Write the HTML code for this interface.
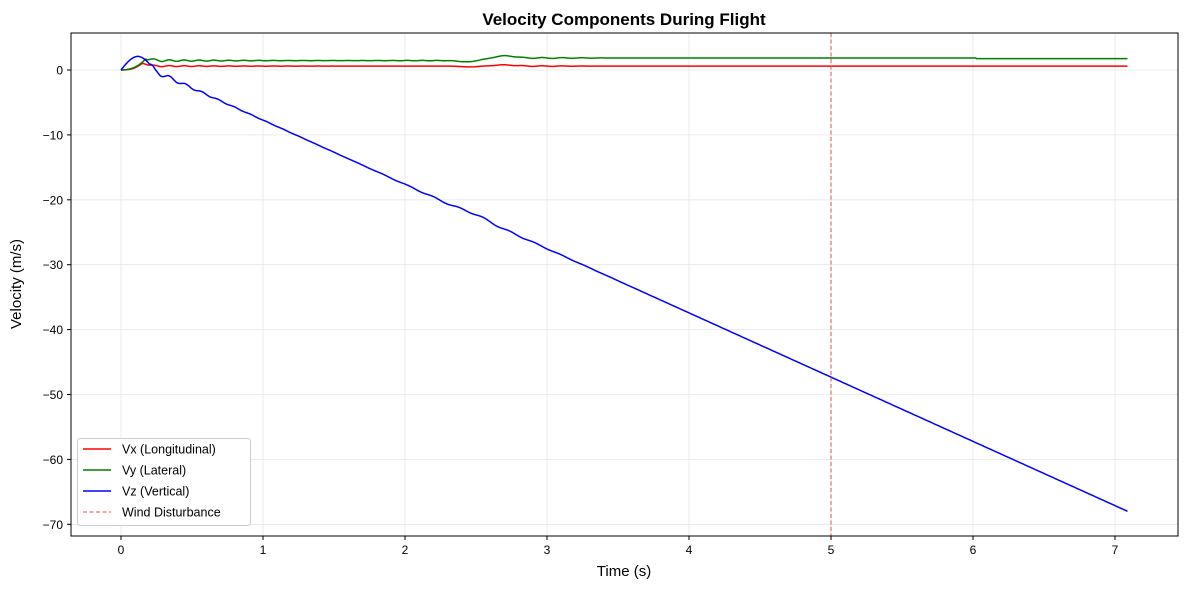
<!DOCTYPE html>
<html><head><meta charset="utf-8"><style>
body{margin:0;background:#fff;}
svg{font-family:"Liberation Sans","DejaVu Sans",sans-serif;}
</style></head><body>
<svg id="s" width="1187" height="587" xmlns="http://www.w3.org/2000/svg">
<rect width="1187" height="587" fill="#fff"/>
<text x="624" y="25" font-size="17" font-weight="bold" text-anchor="middle">Velocity Components During Flight</text>
<g id="grid" stroke="#e6e6e6" stroke-width="0.8"></g>
<g id="ticks" font-size="12"></g>
<g id="lines" fill="none" stroke-width="1.5"></g>
<line x1="831" y1="33" x2="831" y2="536" stroke="#e34d4d" stroke-width="1" stroke-dasharray="4,2.5"/>
<rect x="71" y="33" width="1107" height="503" fill="none" stroke="#000" stroke-width="1"/>
<text x="624" y="576" font-size="15" text-anchor="middle">Time (s)</text>
<text transform="translate(21,284) rotate(-90)" font-size="15" text-anchor="middle">Velocity (m/s)</text>
<g font-size="12.5">
<rect x="77.5" y="438.5" width="173" height="87" rx="3" fill="#fff" stroke="#ccc"/>
<line x1="83" y1="449" x2="111" y2="449" stroke="#f00" stroke-width="1.5"/><text x="122" y="453.5">Vx (Longitudinal)</text>
<line x1="83" y1="470" x2="111" y2="470" stroke="#008000" stroke-width="1.5"/><text x="122" y="474.5">Vy (Lateral)</text>
<line x1="83" y1="491" x2="111" y2="491" stroke="#00f" stroke-width="1.5"/><text x="122" y="495.5">Vz (Vertical)</text>
<line x1="83" y1="512" x2="111" y2="512" stroke="#e34d4d" stroke-width="1" stroke-dasharray="4,2.5"/><text x="122" y="516.5">Wind Disturbance</text>
</g>
</svg>
<script>
var X=t=>121+142*t, Y=v=>70-6.49*v, NS="http://www.w3.org/2000/svg";
function el(p,n,a,txt){var e=document.createElementNS(NS,n);for(var k in a)e.setAttribute(k,a[k]);if(txt!=null)e.textContent=txt;document.getElementById(p).appendChild(e);}
for(var i=0;i<=7;i++){var x=X(i);el("grid","line",{x1:x,x2:x,y1:33,y2:536});el("ticks","line",{x1:x,x2:x,y1:536,y2:540,stroke:"#000"});el("ticks","text",{x:x,y:554,"text-anchor":"middle"},i);}
for(var v=0;v>=-70;v-=10){var y=Y(v);el("grid","line",{x1:71,x2:1178,y1:y,y2:y});el("ticks","line",{x1:67,x2:71,y1:y,y2:y,stroke:"#000"});el("ticks","text",{x:63,y:y+4.5,"text-anchor":"end"},v==0?"0":"\u2212"+(-v));}
function path(f,c){var d="";for(var t=0;t<=7.09;t+=0.004){d+=(d?"L":"M")+X(t).toFixed(1)+","+Y(f(t)).toFixed(2);}el("lines","path",{d:d,stroke:c});}
function bump(t,c,w,a){return a*Math.exp(-Math.pow((t-c)/w,2));}
path(function(t){var s=Math.min(1,t/0.15);var base=0.6*s*s+bump(t,0.16,0.05,0.4);var osc=0.15*Math.exp(-t/0.5)*Math.sin(t*60)*(t>0.15?1:0);return base+osc+bump(t,2.45,0.08,-0.12)+bump(t,2.7,0.1,0.18)+0.05*Math.sin(t*45)*Math.exp(-Math.pow((t-2.9)/0.3,2));},"#f00");
path(function(t){var s=Math.min(1,t/0.18);var base=1.45*s*s+bump(t,0.18,0.05,0.3)+0.4*Math.max(0,Math.min(1,(t-2.4)/0.3));base+=bump(t,2.45,0.08,-0.25)+bump(t,2.7,0.1,0.35);if(t>6.02)base-=0.1;var osc=0.25*Math.exp(-t/0.5)*Math.sin(t*60)*(t>0.18?1:0)+0.07*Math.sin(t*45)*Math.exp(-Math.pow((t-3.0)/0.3,2))+0.03*Math.sin(t*60)*Math.exp(-Math.pow((t-2.1)/0.3,2));return base+osc;},"#008000");
path(function(t){var lin=-9.9*(t-0.22);var v;if(t<0.12)v=2.1*Math.sin(t/0.12*Math.PI/2);else if(t<0.24)v=2.1*Math.cos((t-0.12)/0.12*Math.PI/2)-0.2*(t-0.12)/0.12;else v=lin;var osc=(t>0.2?0.45*Math.exp(-(t-0.2)/0.3)*Math.sin((t-0.2)*55):0)+0.12*Math.sin(t*35)*Math.exp(-Math.pow((t-2.5)/0.6,2));return v+osc+bump(t,2.5,0.12,0.3);},"#00f");
</script>
</body></html>
